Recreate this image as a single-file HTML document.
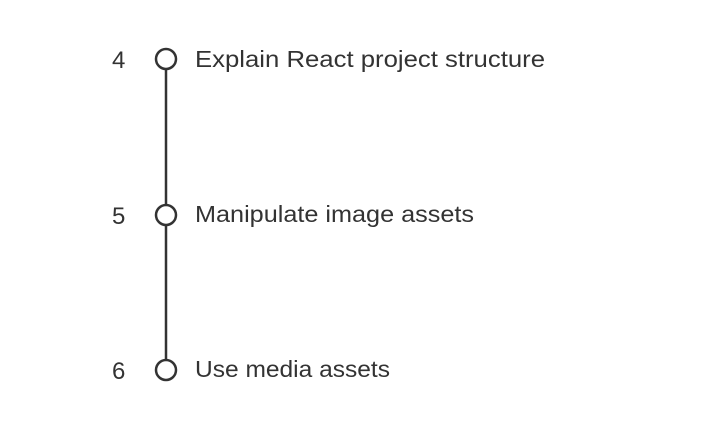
<!DOCTYPE html>
<html><head><style>
body{margin:0;width:716px;height:427px;background:#fff;overflow:hidden}
</style></head><body>
<svg width="716" height="427" xmlns="http://www.w3.org/2000/svg" font-family="Liberation Sans, sans-serif" fill="#333">
<line x1="166" y1="69" x2="166" y2="205" stroke="#333" stroke-width="2.5"/>
<line x1="166" y1="225" x2="166" y2="360" stroke="#333" stroke-width="2.5"/>
<circle cx="166" cy="59" r="10" fill="#fff" stroke="#333" stroke-width="2.5"/>
<circle cx="166" cy="215" r="10" fill="#fff" stroke="#333" stroke-width="2.5"/>
<circle cx="166" cy="370" r="10" fill="#fff" stroke="#333" stroke-width="2.5"/>
<g font-size="24">
<text x="112" y="68">4</text>
<text x="112" y="224">5</text>
<text x="112" y="379">6</text>
</g>
<g font-size="23">
<text x="195" y="67" textLength="350" lengthAdjust="spacingAndGlyphs">Explain React project structure</text>
<text x="195" y="222" textLength="279" lengthAdjust="spacingAndGlyphs">Manipulate image assets</text>
<text x="195" y="377" textLength="195" lengthAdjust="spacingAndGlyphs">Use media assets</text>
</g>
</svg>
</body></html>
